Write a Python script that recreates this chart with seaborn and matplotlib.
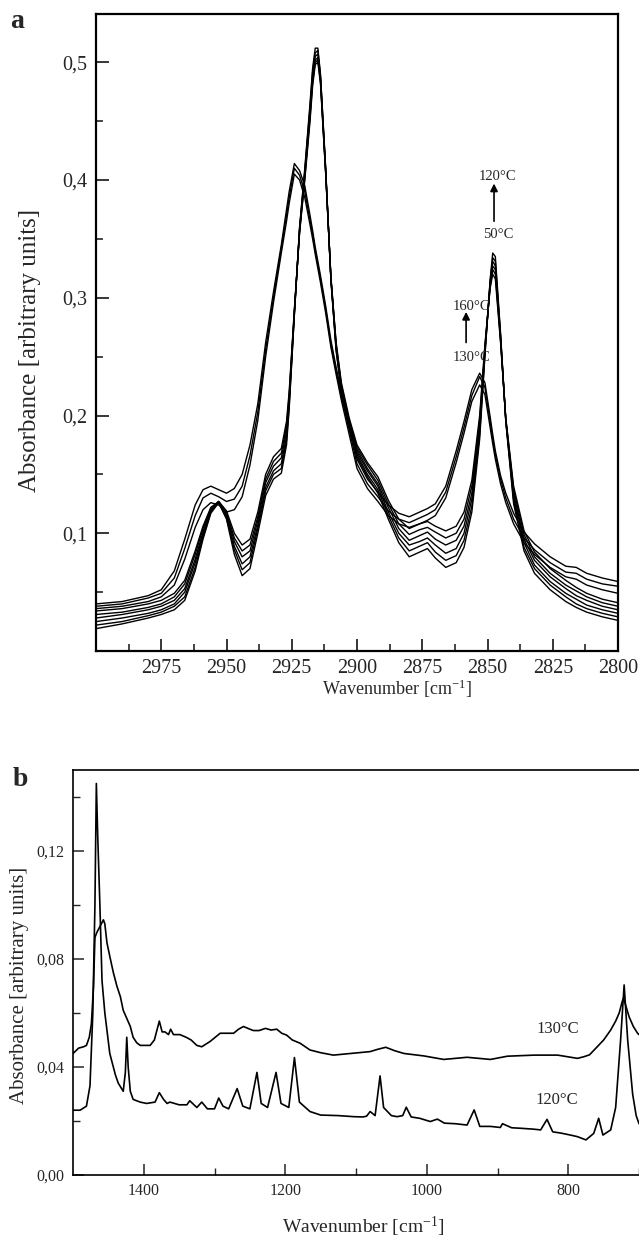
import numpy as np
import pandas as pd
import matplotlib
matplotlib.use("Agg")
import matplotlib.pyplot as plt
from matplotlib.ticker import FixedLocator, FixedFormatter
import seaborn as sns

# ---------------- Panel a data (C-H stretching region) ----------------
wn_a = [3000, 2990, 2980, 2975, 2970, 2966, 2962, 2959, 2956, 2953, 2950, 2947, 2944,
        2941, 2938, 2935, 2932, 2929, 2927, 2926, 2924, 2922, 2920, 2918, 2917, 2916,
        2915, 2914, 2912, 2910, 2908, 2906, 2903, 2900, 2896, 2892, 2888, 2884, 2880,
        2876, 2873, 2870, 2866, 2862, 2859, 2856, 2853, 2851, 2849, 2848, 2847, 2845,
        2843, 2840, 2836, 2832, 2826, 2820, 2816, 2812, 2806, 2800]

low_1 = [.019, .023, .028, .031, .035, .043, .068, .095, .117, .126, .112, .082, .064,
         .070, .100, .132, .146, .151, .175, .205, .285, .360, .410, .465, .495, .512,
         .512, .490, .410, .315, .255, .220, .190, .165, .148, .134, .112, .092, .080,
         .084, .087, .079, .071, .075, .088, .118, .180, .250, .315, .338, .335, .270,
         .195, .125, .085, .066, .052, .042, .037, .033, .029, .026]
low_2 = [.022, .025, .030, .033, .038, .046, .071, .097, .118, .126, .113, .086, .069,
         .075, .104, .136, .150, .155, .179, .208, .286, .359, .408, .462, .492, .508,
         .510, .489, .409, .316, .256, .222, .192, .167, .150, .137, .115, .096, .085,
         .089, .092, .084, .077, .081, .094, .123, .184, .252, .314, .334, .331, .268,
         .196, .128, .088, .070, .056, .046, .040, .036, .032, .029]
low_3 = [.025, .028, .032, .035, .040, .050, .075, .099, .119, .126, .115, .089, .074,
         .080, .107, .139, .153, .159, .183, .211, .287, .358, .406, .459, .488, .505,
         .507, .487, .408, .316, .258, .223, .193, .169, .153, .140, .118, .100, .090,
         .093, .096, .090, .083, .087, .100, .129, .188, .254, .312, .331, .327, .267,
         .196, .131, .092, .073, .059, .049, .044, .039, .035, .032]
low_4 = [.028, .031, .035, .038, .043, .053, .078, .101, .120, .127, .116, .093, .080,
         .085, .111, .143, .157, .164, .187, .214, .288, .357, .404, .456, .485, .502,
         .504, .485, .407, .317, .259, .225, .195, .171, .155, .142, .122, .104, .094,
         .098, .101, .095, .090, .094, .106, .134, .192, .256, .311, .327, .324, .265,
         .197, .134, .095, .077, .063, .053, .047, .043, .038, .035]
low_5 = [.031, .033, .037, .040, .046, .057, .082, .104, .121, .127, .118, .096, .085,
         .090, .114, .146, .161, .168, .191, .217, .289, .356, .402, .453, .483, .500,
         .502, .484, .406, .317, .261, .226, .196, .173, .158, .145, .125, .108, .099,
         .103, .105, .101, .096, .100, .112, .140, .196, .258, .309, .324, .320, .264,
         .197, .137, .099, .080, .066, .056, .051, .046, .041, .038]
low_6 = [.034, .036, .040, .043, .049, .060, .085, .106, .122, .127, .119, .100, .090,
         .095, .118, .150, .165, .172, .195, .220, .290, .355, .400, .450, .480, .498,
         .500, .482, .405, .318, .262, .228, .198, .175, .160, .148, .128, .112, .104,
         .108, .110, .106, .102, .106, .118, .145, .200, .260, .308, .320, .316, .262,
         .198, .140, .102, .084, .070, .060, .054, .049, .044, .041]
high_1 = [.036, .038, .042, .046, .056, .078, .105, .120, .126, .124, .118, .120, .131,
          .158, .196, .250, .296, .338, .365, .380, .405, .400, .385, .362, .350, .337,
          .325, .313, .287, .258, .235, .213, .184, .155, .138, .127, .115, .108, .105,
          .108, .111, .115, .130, .160, .185, .212, .226, .218, .190, .176, .163, .142,
          .126, .108, .092, .082, .071, .063, .061, .056, .052, .049]
high_2 = [.038, .040, .045, .049, .062, .087, .115, .130, .134, .131, .127, .129, .140,
          .166, .203, .256, .300, .342, .370, .385, .410, .404, .390, .366, .354, .340,
          .328, .316, .290, .261, .238, .216, .188, .159, .142, .131, .119, .112, .109,
          .113, .116, .120, .135, .165, .190, .217, .233, .224, .195, .180, .167, .146,
          .130, .112, .096, .086, .075, .067, .066, .061, .057, .055]
high_3 = [.040, .042, .047, .052, .068, .095, .124, .137, .140, .137, .134, .138, .150,
          .175, .210, .262, .305, .345, .375, .390, .414, .408, .395, .370, .357, .343,
          .331, .319, .293, .264, .241, .220, .192, .163, .146, .135, .124, .117, .114,
          .118, .121, .125, .140, .170, .195, .222, .236, .228, .199, .184, .170, .149,
          .134, .117, .101, .091, .080, .072, .071, .066, .062, .059]

# ---------------- Panel b data (fingerprint region) ----------------
wn_120 = [1500, 1490, 1481, 1476, 1472, 1469, 1467, 1465, 1462, 1459, 1455, 1448, 1440,
          1436, 1429, 1426, 1424, 1422, 1419, 1415, 1405, 1396, 1384, 1378, 1372, 1367,
          1363, 1350, 1339, 1335, 1325, 1318, 1310, 1300, 1294, 1288, 1280, 1268, 1260,
          1250, 1240, 1234, 1225, 1213, 1206, 1195, 1187, 1180, 1165, 1150, 1125, 1103,
          1090, 1085, 1080, 1073, 1066, 1061, 1050, 1042, 1034, 1029, 1022, 1010, 995,
          985, 975, 960, 943, 933, 925, 910, 896, 893, 880, 867, 850, 839, 830, 822, 810,
          797, 787, 775, 764, 757, 751, 740, 733, 726, 721, 716, 709, 704, 700]
abs_120 = [.024, .024, .0255, .033, .060, .100, .145, .125, .100, .072, .060, .045, .037,
           .034, .031, .038, .051, .040, .031, .028, .027, .0265, .027, .0305, .028, .0265,
           .027, .026, .026, .0275, .025, .027, .0245, .0245, .0285, .0255, .0245, .032,
           .0255, .0245, .038, .0265, .025, .038, .0265, .025, .0435, .027, .0235, .0222,
           .022, .0216, .0215, .0218, .0235, .022, .0367, .025, .022, .0216, .022, .0251,
           .0215, .021, .0198, .0207, .0192, .019, .0185, .0241, .018, .018, .0176, .019,
           .0175, .0173, .017, .0167, .0206, .016, .0155, .0148, .0142, .013, .0154, .021,
           .0148, .0167, .025, .050, .0704, .050, .030, .022, .019]

wn_130 = [1500, 1492, 1485, 1481, 1477, 1474, 1471, 1469, 1466, 1462, 1457, 1455, 1452,
          1448, 1443, 1438, 1433, 1429, 1424, 1419, 1415, 1410, 1405, 1398, 1391, 1385,
          1378, 1374, 1370, 1365, 1362, 1358, 1349, 1340, 1333, 1325, 1318, 1306, 1292,
          1280, 1273, 1266, 1259, 1250, 1245, 1237, 1228, 1220, 1212, 1205, 1198, 1190,
          1179, 1165, 1150, 1132, 1108, 1080, 1070, 1058, 1045, 1032, 1004, 976, 943, 910,
          886, 848, 815, 787, 778, 770, 759, 750, 740, 733, 728, 724, 722, 719, 714, 708,
          702, 700]
abs_130 = [.045, .047, .0475, .048, .051, .056, .070, .088, .090, .092, .0945, .093, .086,
           .081, .075, .070, .066, .061, .058, .055, .051, .049, .048, .048, .048, .050,
           .057, .053, .053, .052, .054, .052, .052, .051, .050, .048, .0475, .0495, .0525,
           .0525, .0525, .054, .055, .054, .0535, .0535, .0543, .0537, .054, .0525, .0518,
           .050, .0488, .0463, .0453, .0444, .045, .0457, .0465, .0473, .046, .045, .0441,
           .0428, .0436, .0428, .044, .0444, .0444, .0432, .0438, .0445, .0475, .050, .0537,
           .057, .060, .064, .0655, .063, .0586, .055, .0525, .052]

a_yticks = [0.1, 0.2, 0.3, 0.4, 0.5]
a_ylabels = ["0,1", "0,2", "0,3", "0,4", "0,5"]
a_xticks = [2975, 2950, 2925, 2900, 2875, 2850, 2825, 2800]
b_yticks = [0.00, 0.04, 0.08, 0.12]
b_ylabels = ["0,00", "0,04", "0,08", "0,12"]
b_xticks = [1400, 1200, 1000, 800]

# ---------------- Style ----------------
sns.set_theme(style="ticks")
plt.rcParams["font.family"] = ["Liberation Serif", "DejaVu Serif"]
plt.rcParams["mathtext.fontset"] = "custom"
plt.rcParams["mathtext.rm"] = "Liberation Serif"
plt.rcParams["mathtext.it"] = "Liberation Serif:italic"

W, H = 639, 1237
fig = plt.figure(figsize=(W / 100, H / 100), dpi=100)
fig.patch.set_facecolor("white")


def px_axes(l, t, r, b):
    return fig.add_axes([l / W, 1 - b / H, (r - l) / W, (b - t) / H])


# ---------------- Panel a ----------------
curves_a = {"low_1": low_1, "low_2": low_2, "low_3": low_3, "low_4": low_4,
            "low_5": low_5, "low_6": low_6, "high_1": high_1, "high_2": high_2,
            "high_3": high_3}
df_a = pd.concat([pd.DataFrame({"wn": wn_a, "A": v, "curve": k}) for k, v in curves_a.items()])

ax1 = px_axes(96, 14, 618, 651)
sns.lineplot(data=df_a, x="wn", y="A", units="curve", estimator=None, color="black",
             lw=1.0, ax=ax1, sort=False)
ax1.set_xlim(3000, 2800)
ax1.set_ylim(0.0, 0.541)
ax1.xaxis.set_major_locator(FixedLocator(a_xticks))
ax1.xaxis.set_minor_locator(FixedLocator([2987.5, 2962.5, 2937.5, 2912.5, 2887.5, 2862.5, 2837.5, 2812.5]))
ax1.yaxis.set_major_locator(FixedLocator(a_yticks))
ax1.yaxis.set_major_formatter(FixedFormatter(a_ylabels))
ax1.yaxis.set_minor_locator(FixedLocator([0.05, 0.15, 0.25, 0.35, 0.45]))
ax1.tick_params(which="major", direction="in", length=9, width=1.3, labelsize=14.5, pad=6)
ax1.tick_params(which="minor", direction="in", length=5, width=1.2)
ax1.set_xlabel("")
ax1.set_ylabel("")
for s in ax1.spines.values():
    s.set_linewidth(1.6)
    s.set_color("black")

fig.text(30 / W, 1 - 350 / H, "Absorbance [arbitrary units]", rotation=90,
         ha="center", va="center", fontsize=18)
fig.text(397 / W, 1 - 689 / H, r"Wavenumber [cm$^{\mathregular{-1}}$]",
         ha="center", va="center", fontsize=13)
fig.text(17 / W, 1 - 22 / H, "a", ha="center", va="center", fontsize=20, fontweight="bold")

arrow_kw = dict(arrowstyle="-|>", color="black", lw=1.2, mutation_scale=11,
                shrinkA=0, shrinkB=0)
ax1.annotate("", xy=(2847.5, 0.397), xytext=(2847.5, 0.365), arrowprops=arrow_kw)
ax1.text(2846, 0.403, "120°C", ha="center", va="center", fontsize=10.5)
ax1.text(2846, 0.354, "50°C", ha="center", va="center", fontsize=10.5)
ax1.annotate("", xy=(2858.2, 0.288), xytext=(2858.2, 0.262), arrowprops=arrow_kw)
ax1.text(2856, 0.293, "160°C", ha="center", va="center", fontsize=10.5)
ax1.text(2856, 0.249, "130°C", ha="center", va="center", fontsize=10.5)

# ---------------- Panel b ----------------
df_b = pd.concat([
    pd.DataFrame({"wn": wn_120, "A": abs_120, "T": "120°C"}),
    pd.DataFrame({"wn": wn_130, "A": abs_130, "T": "130°C"}),
])
ax2 = px_axes(73, 770, 639, 1175)
sns.lineplot(data=df_b, x="wn", y="A", units="T", estimator=None, color="black",
             lw=1.2, ax=ax2, sort=False)
ax2.set_xlim(1500, 700)
ax2.set_ylim(0.0, 0.15)
ax2.xaxis.set_major_locator(FixedLocator(b_xticks))
ax2.xaxis.set_minor_locator(FixedLocator([1300, 1100, 900, 700]))
ax2.yaxis.set_major_locator(FixedLocator(b_yticks))
ax2.yaxis.set_major_formatter(FixedFormatter(b_ylabels))
ax2.yaxis.set_minor_locator(FixedLocator([0.02, 0.06, 0.10, 0.14]))
ax2.tick_params(which="major", direction="in", length=8, width=1.1, labelsize=11.5, pad=6)
ax2.tick_params(which="minor", direction="in", length=5, width=1.0)
ax2.set_xlabel("")
ax2.set_ylabel("")
for s in ax2.spines.values():
    s.set_linewidth(1.2)
    s.set_color("black")
ax2.spines["right"].set_visible(False)

ax2.text(815, 0.054, "130°C", ha="center", va="center", fontsize=12)
ax2.text(816, 0.0278, "120°C", ha="center", va="center", fontsize=12)

fig.text(20 / W, 1 - 985 / H, "Absorbance [arbitrary units]", rotation=90,
         ha="center", va="center", fontsize=15)
fig.text(363 / W, 1 - 1227 / H, r"Wavenumber [cm$^{\mathregular{-1}}$]",
         ha="center", va="center", fontsize=14)
fig.text(20 / W, 1 - 780 / H, "b", ha="center", va="center", fontsize=20, fontweight="bold")

fig.savefig("out.png", dpi=100, facecolor="white")
